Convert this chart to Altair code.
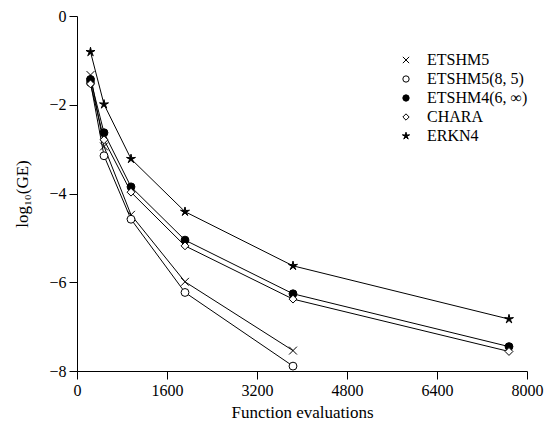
import altair as alt
import pandas as pd

evals = [240, 480, 960, 1920, 3840, 7680]
series_names = ["ETSHM5", "ETSHM5(8, 5)", "ETSHM4(6, ∞)", "CHARA", "ERKN4"]
etshm5 = [-1.33, -2.94, -4.48, -5.99, -7.54]
etshm5_85 = [-1.50, -3.15, -4.58, -6.23, -7.89]
etshm4 = [-1.43, -2.63, -3.85, -5.05, -6.26, -7.45]
chara = [-1.53, -2.79, -3.97, -5.18, -6.38, -7.56]
erkn4 = [-0.81, -1.99, -3.22, -4.41, -5.63, -6.83]

rows = []
for name, vals in zip(series_names, [etshm5, etshm5_85, etshm4, chara, erkn4]):
    for x, y in zip(evals, vals):
        rows.append({"series": name, "evals": x, "lge": y})
df = pd.DataFrame(rows)

xpath = "M-1,-1L1,1M-1,1L1,-1"
star = ("M0,-1.2L0.212,-0.291L1.141,-0.371L0.342,0.111L0.706,0.971L0,0.36"
        "L-0.706,0.971L-0.342,0.111L-1.141,-0.371L-0.212,-0.291Z")

FONT = "Liberation Serif"

x_enc = alt.X("evals:Q", scale=alt.Scale(domain=[0, 8000], nice=False),
              axis=alt.Axis(values=[0, 1600, 3200, 4800, 6400, 8000], format="d",
                            title="Function evaluations", labelFlush=False))
y_enc = alt.Y("lge:Q", scale=alt.Scale(domain=[-8, 0], nice=False),
              axis=alt.Axis(values=[-8, -6, -4, -2, 0], title="log₁₀(GE)"))

lines = alt.Chart(df).mark_line(color="black", strokeWidth=1).encode(
    x=x_enc, y=y_enc, detail="series:N", order="evals:Q")

leg = dict(title=None, orient="none", legendX=321, legendY=36)
points = alt.Chart(df).mark_point(strokeWidth=1, opacity=1, size=62).encode(
    x=x_enc, y=y_enc,
    shape=alt.Shape("series:N", scale=alt.Scale(domain=series_names,
                    range=[xpath, "circle", "circle", "diamond", star]),
                    legend=alt.Legend(labelFont=FONT, labelFontSize=16, labelColor="black",
                                      symbolSize=40, symbolStrokeWidth=1, rowPadding=3,
                                      labelOffset=13, labelLimit=300, **leg)),
    fill=alt.Fill("series:N", scale=alt.Scale(domain=series_names,
                  range=["transparent", "white", "black", "white", "black"]),
                  legend=alt.Legend(**leg)),
    stroke=alt.Stroke("series:N", scale=alt.Scale(domain=series_names,
                      range=["black"] * 5), legend=alt.Legend(**leg)),
)

chart = alt.layer(lines, points).properties(
    width=450, height=355,
    autosize=alt.AutoSizeParams(type="none"),
    padding={"left": 77, "top": 16, "right": 32, "bottom": 56},
).configure_view(stroke=None).configure_axis(
    labelFont=FONT, titleFont=FONT, labelFontSize=16, titleFontSize=17,
    labelColor="black", titleColor="black", domainColor="black", tickColor="black",
    tickSize=8, grid=False, titleFontWeight="normal", labelPadding=3,
).configure_axisX(titlePadding=6).configure_axisY(titlePadding=17)

chart.save("out.html", embed_options={"renderer": "svg", "actions": False})
